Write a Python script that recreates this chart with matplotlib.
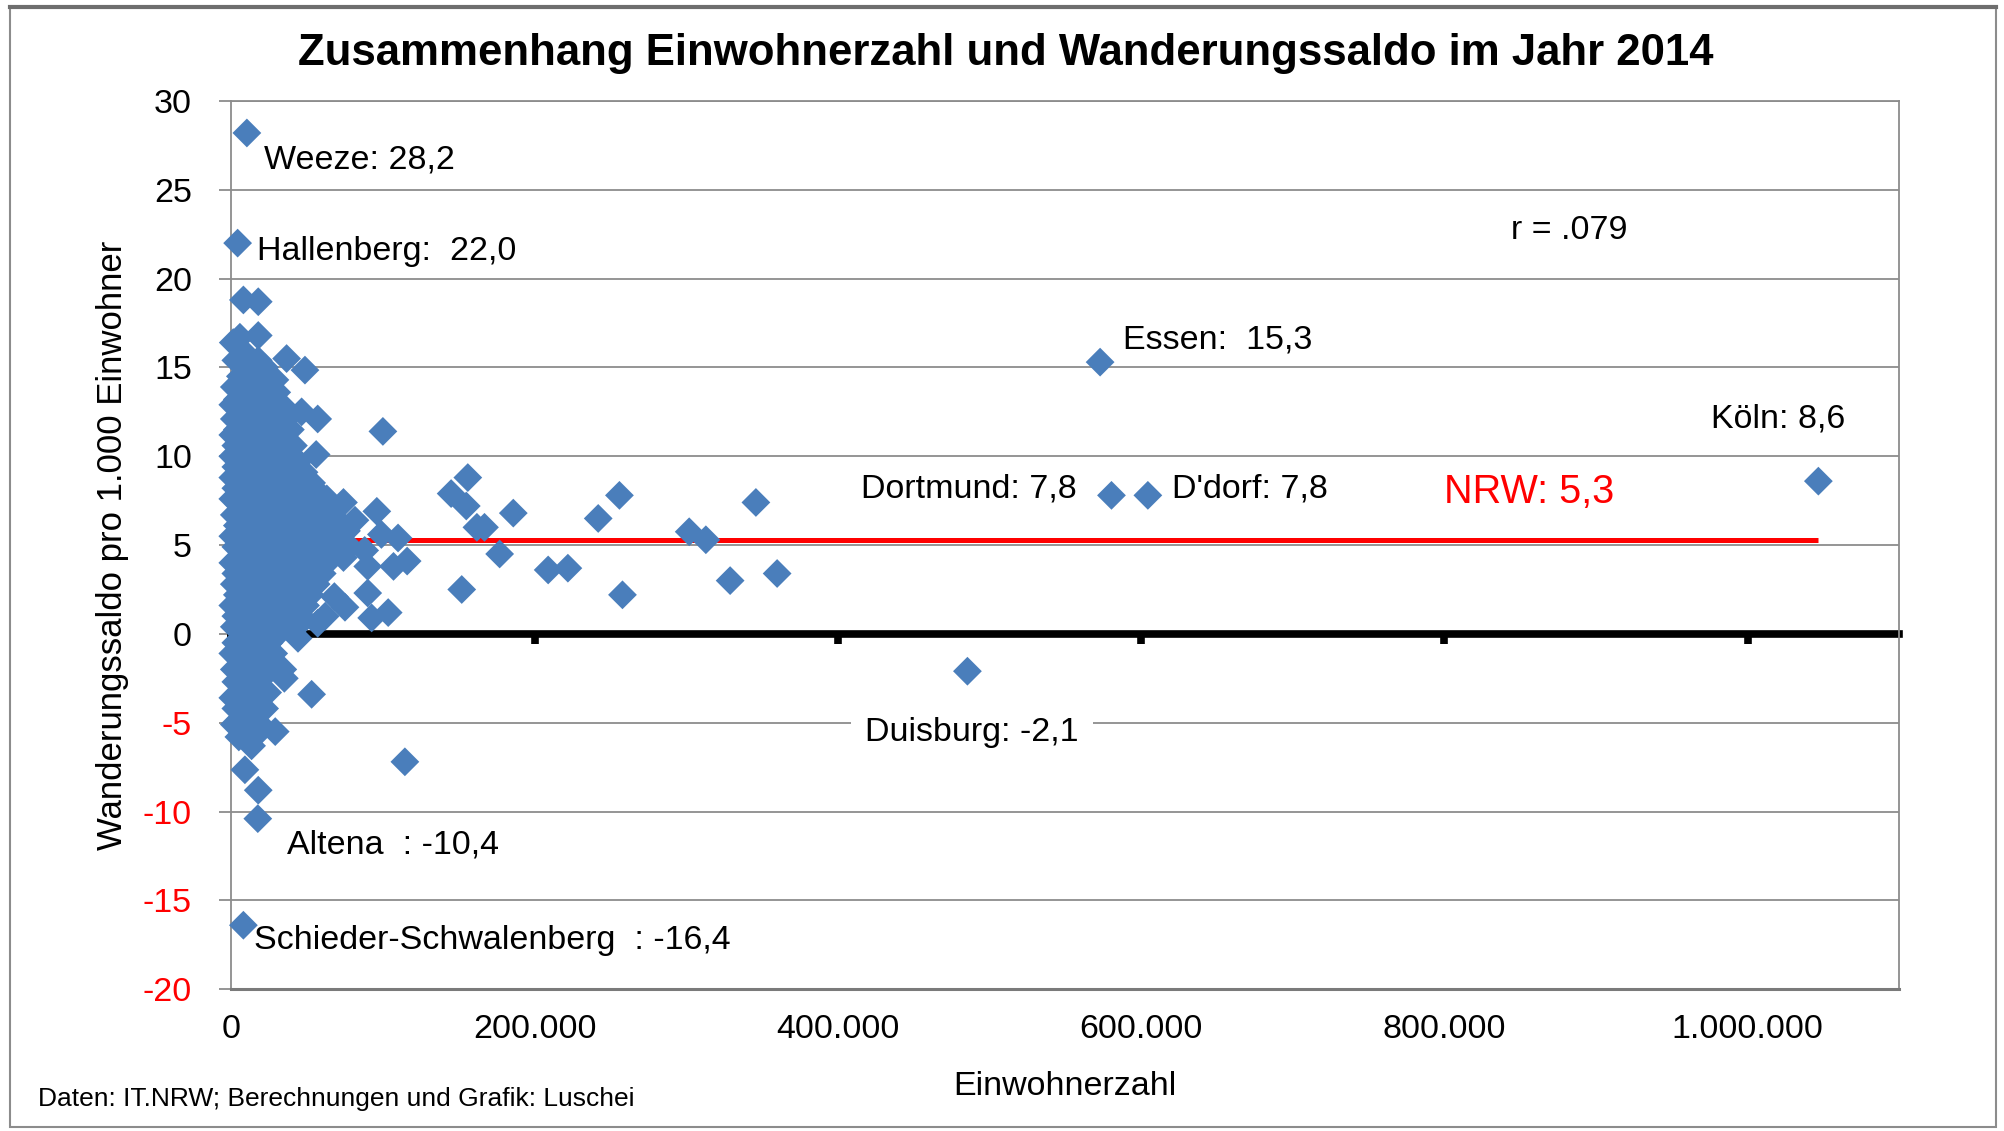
import matplotlib.pyplot as plt
from matplotlib.ticker import FuncFormatter
from matplotlib.patches import Rectangle
from matplotlib.lines import Line2D

plt.rcParams['font.family'] = ['Liberation Sans', 'DejaVu Sans']
plt.rcParams['axes.unicode_minus'] = False

# Gemeinden NRW 2014: (Einwohner in Tsd., Wanderungssaldo je 1.000 Einwohner)
kleine_gemeinden = [
    (8, 18.8), (17.8, 18.7), (17.8, 16.8), (5.7, 16.7), (1.3, 16.4),
    (9, 15.8), (36.5, 15.5), (17.8, 15.4), (3, 15.4), (13, 15.0), (22, 15.0), (48.6, 14.85),
    (24.4, 14.5), (6, 14.5), (28.8, 14.3), (11, 14.3), (2, 13.9), (17, 13.9), (8, 13.6), (22, 13.6), (30, 13.6),
    (4, 13.2), (13, 13.2), (26, 13.2), (1, 12.9), (18, 12.9), (33, 12.9), (46.4, 12.5), (7, 12.5), (23, 12.5),
    (57, 12.1), (2, 12.1), (15, 12.1), (29, 12.1), (36, 12.1),
    (10, 11.8), (20, 11.8), (32, 11.8), (4, 11.5), (25, 11.5), (39, 11.5), (1, 11.2), (13, 11.2), (30, 11.2),
    (7, 10.9), (18, 10.9), (35, 10.9), (3, 10.6), (22, 10.6), (28, 10.6), (41, 10.6), (10, 10.3), (15, 10.3),
    (33, 10.3), (56, 10.1), (1, 10.0), (20, 10.0), (26, 10.0), (38, 10.0),
    (6, 9.7), (13, 9.7), (30, 9.7), (44, 9.7), (3, 9.4), (17, 9.4), (24, 9.4), (36, 9.4),
    (9, 9.1), (28, 9.1), (41, 9.1), (48, 9.1), (1, 8.8), (14, 8.8), (21, 8.8), (34, 8.8), (48.6, 8.8),
    (6, 8.5), (18, 8.5), (30, 8.5), (40, 8.5), (53, 8.5), (3, 8.2), (11, 8.2), (25, 8.2), (36, 8.2), (46, 8.2),
    (8, 7.9), (16, 7.9), (31, 7.9), (42, 7.9), (58, 7.9), (1, 7.6), (21, 7.6), (27, 7.6), (38, 7.6), (50, 7.6),
    (63, 7.6), (74, 7.4), (5, 7.3), (13, 7.3), (33, 7.3), (45, 7.3), (56, 7.3),
    (10, 7.0), (18, 7.0), (24, 7.0), (40, 7.0), (52, 7.0), (66, 7.0), (96, 6.9),
    (2, 6.7), (15, 6.7), (29, 6.7), (36, 6.7), (47, 6.7), (60, 6.7),
    (81.6, 6.4), (7, 6.4), (21, 6.4), (32, 6.4), (43, 6.4), (55, 6.4), (70, 6.4),
    (4, 6.1), (12, 6.1), (26, 6.1), (38, 6.1), (50, 6.1), (64, 6.1),
    (9, 5.8), (17, 5.8), (30, 5.8), (42, 5.8), (58, 5.8), (76, 5.8), (99, 5.6),
    (1, 5.5), (22, 5.5), (35, 5.5), (47, 5.5), (67, 5.5), (110, 5.4),
    (6, 5.2), (14, 5.2), (28, 5.2), (40, 5.2), (54, 5.2), (72, 5.2),
    (3, 4.9), (19, 4.9), (33, 4.9), (45, 4.9), (61, 4.9), (78, 4.9), (88, 4.7),
    (10, 4.6), (24, 4.6), (38, 4.6), (51, 4.6), (68, 4.6),
    (5, 4.3), (15, 4.3), (29, 4.3), (42, 4.3), (57, 4.3), (74, 4.3), (116, 4.1),
    (1, 4.0), (20, 4.0), (34, 4.0), (48, 4.0), (63, 4.0), (107, 3.8), (90, 3.8),
    (8, 3.7), (26, 3.7), (39, 3.7), (54, 3.7), (3, 3.4), (14, 3.4), (31, 3.4), (45, 3.4), (60, 3.4),
    (11, 3.1), (22, 3.1), (36, 3.1), (50, 3.1), (2, 2.8), (17, 2.8), (28, 2.8), (41, 2.8), (56, 2.8),
    (7, 2.5), (24, 2.5), (33, 2.5), (47, 2.5), (90, 2.3), (4, 2.2), (13, 2.2), (30, 2.2), (38, 2.2),
    (52, 2.2), (68, 2.1), (9, 1.9), (20, 1.9), (44, 1.9), (1, 1.6), (15, 1.6), (27, 1.6), (35, 1.6),
    (49, 1.6), (75, 1.5), (6, 1.3), (22, 1.3), (40, 1.3), (103.5, 1.2), (62, 1.0), (3, 1.0), (12, 1.0),
    (31, 1.0), (46, 1.0), (92.6, 0.9), (8, 0.7), (18, 0.7), (27, 0.7), (37, 0.7), (57, 0.6),
    (2, 0.4), (14, 0.4), (24, 0.4), (43, 0.4), (6, 0.1), (20, 0.1), (32, 0.1),
    (44, -0.25), (10, -0.25), (16, -0.25), (3, -0.5), (25, -0.5), (7, -0.8), (19, -0.8),
    (1, -1.1), (13, -1.1), (28, -1.1), (5, -1.4), (22, -1.4), (10, -1.7), (17, -1.7),
    (34, -2.0), (2, -2.0), (25, -2.0), (7, -2.3), (14, -2.3), (35, -2.5), (20, -2.5), (3, -2.7), (11, -2.7),
    (16, -3.0), (24, -3.3), (6, -3.3), (53, -3.4), (1, -3.6), (12, -3.6), (19, -3.6), (8, -3.9), (15, -3.9),
    (3, -4.2), (22, -4.2), (11, -4.5), (17, -4.5), (6, -4.8), (14, -4.8), (2, -5.1), (19, -5.1),
    (29, -5.5), (10, -5.5), (5, -5.8), (15, -5.8), (13.4, -6.3), (9, -7.65), (17.8, -8.8), (114.5, -7.2),
]

mittelstaedte = [
    (100, 11.4), (145, 7.9), (156, 8.8), (155, 7.2), (162, 6.0), (167, 6.0), (186, 6.8), (177, 4.5),
    (152, 2.5), (209, 3.6), (222, 3.7), (242, 6.5), (256, 7.8), (258, 2.2), (302, 5.75), (313, 5.3),
    (329, 3.0), (346, 7.4), (360, 3.4),
]

# beschriftete Gemeinden
namen_einw = [10.3, 4.2, 573, 1046.7, 580.5, 604.5, 485.5, 17.5, 8.0]
namen_saldo = [28.2, 22.0, 15.3, 8.6, 7.8, 7.8, -2.1, -10.4, -16.4]
namen_text = ["Weeze: 28,2", "Hallenberg:  22,0", "Essen:  15,3", "Köln: 8,6", "Dortmund: 7,8",
              "D'dorf: 7,8", "Duisburg: -2,1", "Altena  : -10,4", "Schieder-Schwalenberg  : -16,4"]
# Versatz der Beschriftung (Punkte) und Ausrichtung
namen_dx = [12, 13.8, 16.6, 19, -24.8, 17.5, -73.6, 21.2, 7.4]
namen_dy = [-19.3, -6.4, 15.6, 44.5, 4.6, 4.6, -44.2, -19.3, -11]
namen_ha = ['left', 'left', 'left', 'right', 'right', 'left', 'left', 'left', 'left']

nrw_saldo = 5.3
korrelation = ".079"

einw = [p[0] * 1000 for p in kleine_gemeinden + mittelstaedte] + [v * 1000 for v in namen_einw]
saldo = [p[1] for p in kleine_gemeinden + mittelstaedte] + namen_saldo

fig = plt.figure(figsize=(20.04, 11.31), dpi=100)
ax = fig.add_axes([0.1154, 0.1254, 0.8323, 0.7853])

grau = '#8c8c8c'
blau = '#4a7ebb'

ax.set_xlim(0, 1100000)
ax.set_ylim(-20, 30)
ax.set_axisbelow(True)
ax.yaxis.grid(True, color=grau, lw=1.3)
for s in ['left', 'right', 'top', 'bottom']:
    ax.spines[s].set_color(grau)
    ax.spines[s].set_linewidth(1.3)
ax.spines['bottom'].set_linewidth(2.2)
ax.spines['bottom'].set_color('#7a7a7a')

ax.set_yticks(range(-20, 31, 5))
ax.tick_params(axis='y', direction='out', length=8.3, width=1.3, color=grau, pad=20, labelsize=24.5)
for lab, v in zip(ax.get_yticklabels(), range(-20, 31, 5)):
    lab.set_color('red' if v < 0 else 'black')

xt = list(range(0, 1000001, 200000))
ax.set_xticks(xt)
ax.xaxis.set_major_formatter(FuncFormatter(lambda v, p: f"{int(v):,}".replace(",", ".")))
ax.tick_params(axis='x', length=0, pad=18, labelsize=24.5)

# Nulllinie mit Teilstrichen
sec = ax.secondary_xaxis(0.4)
sec.set_xticks(xt)
sec.tick_params(axis='x', direction='out', length=7.5, width=5.5, color='black', labelbottom=False)
sec.spines['bottom'].set_linewidth(5.5)
sec.spines['bottom'].set_color('black')
sec.set_zorder(0.8)

# NRW-Durchschnitt
ax.plot([0, max(einw)], [nrw_saldo, nrw_saldo], color='#ff0000', lw=3.6, zorder=2, solid_capstyle='butt')
ax.text(800000, 8.0, f"NRW: {nrw_saldo}".replace('.', ','), color='#ff0000', fontsize=28.5, va='center')

ax.scatter(einw, saldo, marker='D', s=215, c=blau, edgecolors='none', zorder=3, clip_on=False)

for x, y, t, dx, dy, ha in zip(namen_einw, namen_saldo, namen_text, namen_dx, namen_dy, namen_ha):
    kw = {}
    if t.startswith("Duisburg"):
        kw['bbox'] = dict(facecolor='white', edgecolor='none', pad=10)
    ax.annotate(t, xy=(x * 1000, y), xytext=(dx, dy), textcoords='offset points',
                ha=ha, va='center', fontsize=24.5, zorder=4, **kw)

ax.text(0.767, 0.8547, "r = " + korrelation, transform=ax.transAxes, fontsize=24.5, va='center')

ax.set_ylabel("Wanderungssaldo pro 1.000 Einwohner", fontsize=25)
ax.yaxis.label.set_verticalalignment('center')
ax.yaxis.set_label_coords(-0.0713, 0.5)
ax.set_xlabel("Einwohnerzahl", fontsize=24.5)
ax.xaxis.label.set_verticalalignment('center')
ax.xaxis.set_label_coords(0.5, -0.1094)

fig.text(0.502, 0.9525, "Zusammenhang Einwohnerzahl und Wanderungssaldo im Jahr 2014",
         fontsize=31.5, weight='bold', ha='center', va='center')
fig.text(0.019, 0.028, "Daten: IT.NRW; Berechnungen und Grafik: Luschei", fontsize=19, va='center')

# Rahmen
fig.add_artist(Rectangle((0.005, 0.0035), 0.991, 0.9903, transform=fig.transFigure,
                         fill=False, edgecolor=grau, lw=1.5))
fig.add_artist(Line2D([0.005, 0.996], [0.9938, 0.9938], transform=fig.transFigure, color='#6e6e6e', lw=3))

fig.savefig("out.png", dpi=100)
